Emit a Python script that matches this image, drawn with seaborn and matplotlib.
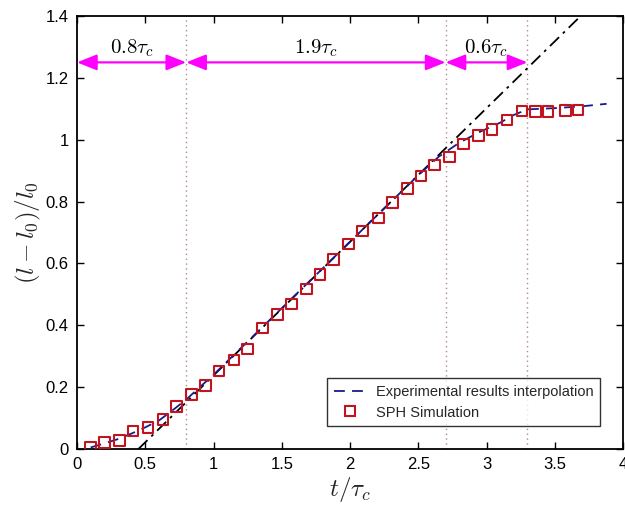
import matplotlib
matplotlib.use("Agg")
import matplotlib.pyplot as plt
import seaborn as sns
import pandas as pd
from matplotlib.lines import Line2D

# ---- data ----
sph_t = [0.10, 0.20, 0.31, 0.41, 0.52, 0.63, 0.73, 0.84, 0.94, 1.04, 1.15, 1.25,
         1.36, 1.47, 1.57, 1.68, 1.78, 1.88, 1.99, 2.09, 2.21, 2.31, 2.42, 2.52,
         2.62, 2.73, 2.83, 2.94, 3.04, 3.15, 3.26, 3.36, 3.45, 3.58, 3.67]
sph_v = [0.004, 0.020, 0.028, 0.058, 0.070, 0.096, 0.137, 0.177, 0.205, 0.252, 0.288, 0.323,
         0.391, 0.435, 0.469, 0.517, 0.564, 0.612, 0.663, 0.705, 0.747, 0.798, 0.841, 0.883,
         0.918, 0.944, 0.986, 1.013, 1.034, 1.064, 1.093, 1.091, 1.091, 1.095, 1.096]

exp_t = [0.10, 0.20, 0.30, 0.40, 0.50, 0.60, 0.70, 0.80, 1.00, 1.50, 2.00, 2.50,
         2.65, 2.80, 2.95, 3.10, 3.20, 3.30, 3.50, 3.70, 3.88]
exp_v = [0.005, 0.018, 0.032, 0.050, 0.070, 0.092, 0.125, 0.160, 0.240, 0.455, 0.670, 0.885,
         0.945, 0.990, 1.025, 1.055, 1.080, 1.098, 1.102, 1.108, 1.116]

fit_t = [0.45, 3.69]
fit_v = [0.00, 1.40]

phase_bounds = [0.0, 0.8, 2.7, 3.3]
phase_labels = [r"$0.8\tau_c$", r"$1.9\tau_c$", r"$0.6\tau_c$"]

x_ticks = [0, 0.5, 1, 1.5, 2, 2.5, 3, 3.5, 4]
x_tick_labels = ["0", "0.5", "1", "1.5", "2", "2.5", "3", "3.5", "4"]
y_ticks = [0, 0.2, 0.4, 0.6, 0.8, 1.0, 1.2, 1.4]
y_tick_labels = ["0", "0.2", "0.4", "0.6", "0.8", "1", "1.2", "1.4"]

# ---- style ----
sns.set_theme(style="ticks")
plt.rcParams["font.family"] = ["Liberation Sans", "DejaVu Sans"]
plt.rcParams["mathtext.fontset"] = "cm"

fig = plt.figure(figsize=(6.25, 5.09), dpi=100)
ax = fig.add_axes([0.1232, 0.1179, 0.8736, 0.8507])

df_exp = pd.DataFrame({"t": exp_t, "v": exp_v})
df_sph = pd.DataFrame({"t": sph_t, "v": sph_v})
df_fit = pd.DataFrame({"t": fit_t, "v": fit_v})

# vertical phase separators
for xb in phase_bounds[1:]:
    ax.axvline(xb, color="#b08a8a", linestyle=(0, (1, 2.5)), linewidth=1.0, zorder=1)

sns.lineplot(data=df_fit, x="t", y="v", ax=ax, color="black", linewidth=1.3,
             linestyle=(0, (7, 3, 1.5, 3)), zorder=2, legend=False)
sns.lineplot(data=df_exp, x="t", y="v", ax=ax, color="#1a1a8c", linewidth=1.3,
             linestyle=(0, (6, 4)), zorder=3, legend=False, sort=False)
sns.scatterplot(data=df_sph, x="t", y="v", ax=ax, marker="s", s=60,
                facecolor="none", edgecolor="#c0141e", linewidth=1.5, zorder=4, legend=False)

# phase arrows
for i in range(3):
    a, b = phase_bounds[i], phase_bounds[i + 1]
    ax.annotate("", xy=(b, 1.25), xytext=(a, 1.25),
                arrowprops=dict(arrowstyle="<|-|>,head_length=1.0,head_width=0.4",
                                color="#ff00ff", lw=1.6, shrinkA=0, shrinkB=0),
                zorder=5)
    ax.text((a + b) / 2, 1.262, phase_labels[i], ha="center", va="bottom",
            fontsize=15, color="black")

ax.set_xlim(0, 4)
ax.set_ylim(0, 1.4)
ax.set_xticks(x_ticks)
ax.set_xticklabels(x_tick_labels)
ax.set_yticks(y_ticks)
ax.set_yticklabels(y_tick_labels)
ax.tick_params(direction="in", length=5, width=1.0, top=True, right=True,
               labelsize=12, colors="black", pad=6)
for sp in ax.spines.values():
    sp.set_linewidth(1.3)
    sp.set_color("black")

ax.set_xlabel(r"$t/\tau_c$", fontsize=18, labelpad=2)
ax.set_ylabel(r"$(l-l_0)/l_0$", fontsize=18, labelpad=2)

handles = [
    Line2D([], [], color="#1a1a8c", linestyle=(0, (6, 4)), linewidth=1.3),
    Line2D([], [], color="#c0141e", marker="s", markerfacecolor="none",
           markersize=7, markeredgewidth=1.5, linestyle="none"),
]
leg = ax.legend(handles, ["Experimental results interpolation", "SPH Simulation"],
                loc="lower right", bbox_to_anchor=(0.972, 0.036), fontsize=10.5,
                frameon=True, fancybox=False, edgecolor="black",
                borderpad=0.45, handlelength=2.2, labelspacing=0.45, handletextpad=0.7)
leg.get_frame().set_linewidth(1.0)

fig.savefig("out.png", dpi=100)
